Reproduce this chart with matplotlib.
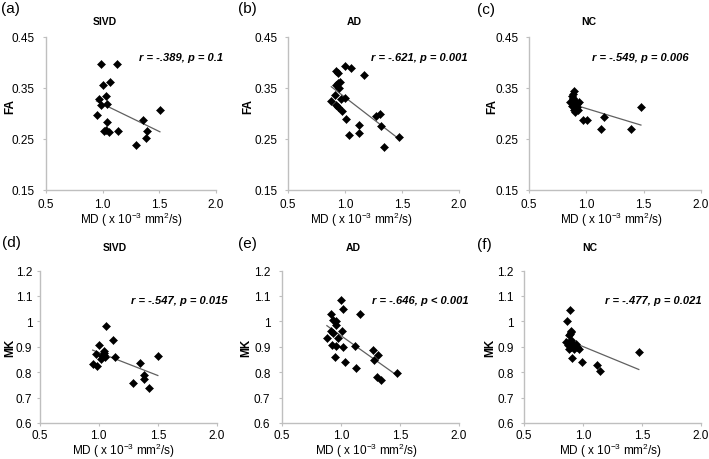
import numpy as np
import matplotlib
matplotlib.use("Agg")
import matplotlib.pyplot as plt

plt.rcParams['font.family'] = ['Liberation Sans', 'DejaVu Sans']
plt.rcParams['mathtext.fontset'] = 'custom'
plt.rcParams['mathtext.rm'] = 'Liberation Sans'

# ---------------------------------------------------------------
# Data
# ---------------------------------------------------------------
groups = ['SIVD', 'AD', 'NC']
tags_fa = ['(a)', '(b)', '(c)']
tags_mk = ['(d)', '(e)', '(f)']
stats_fa = ['r = -.389, p = 0.1', 'r = -.621, p = 0.001', 'r = -.549, p = 0.006']
stats_mk = ['r = -.547, p = 0.015', 'r = -.646, p < 0.001', 'r = -.477, p = 0.021']

md_ticks = [0.5, 1.0, 1.5, 2.0]
md_ticklabels = ['0.5', '1.0', '1.5', '2.0']
fa_ticks = [0.15, 0.25, 0.35, 0.45]
fa_ticklabels = ['0.15', '0.25', '0.35', '0.45']
mk_ticks = [0.6, 0.7, 0.8, 0.9, 1.0, 1.1, 1.2]
mk_ticklabels = ['0.6', '0.7', '0.8', '0.9', '1', '1.1', '1.2']

# FA vs MD
sivd_md_fa = [0.991, 1.124, 1.065, 1.000, 1.035, 0.970, 0.985, 1.044, 0.947, 1.044,
              1.014, 1.035, 1.056, 1.133, 1.355, 1.508, 1.390, 1.384, 1.293]
sivd_fa = [0.397, 0.397, 0.361, 0.355, 0.335, 0.328, 0.317, 0.318, 0.297, 0.284,
           0.265, 0.268, 0.264, 0.265, 0.288, 0.307, 0.266, 0.251, 0.238]

ad_md_fa = [1.003, 1.056, 0.918, 0.938, 1.165, 0.938, 0.953, 0.924, 0.947, 0.909,
            0.968, 0.997, 0.880, 0.924, 0.938, 0.974, 1.012, 1.268, 1.306, 1.121,
            1.312, 1.124, 1.033, 1.474, 1.344]
ad_fa = [0.394, 0.389, 0.383, 0.380, 0.376, 0.360, 0.362, 0.356, 0.350, 0.336,
         0.329, 0.330, 0.325, 0.317, 0.312, 0.305, 0.290, 0.295, 0.300, 0.278,
         0.275, 0.261, 0.258, 0.253, 0.234]

nc_md_fa = [0.892, 0.872, 0.885, 0.857, 0.936, 0.892, 0.907, 0.930, 0.892, 0.974,
            1.003, 1.155, 1.126, 1.389, 1.476, 0.880, 0.900, 0.915, 0.875, 0.920,
            0.898, 0.905, 0.887]
nc_fa = [0.344, 0.335, 0.339, 0.323, 0.323, 0.319, 0.309, 0.306, 0.306, 0.288,
         0.288, 0.293, 0.270, 0.270, 0.313, 0.330, 0.325, 0.318, 0.315, 0.312,
         0.313, 0.302, 0.328]

# MK vs MD
sivd_md_mk = [1.062, 1.118, 1.000, 0.978, 1.042, 1.042, 1.023, 1.056, 1.135, 0.949,
              0.986, 1.351, 1.500, 1.379, 1.385, 1.286, 1.429, 1.030, 1.048]
sivd_mk = [0.980, 0.928, 0.908, 0.872, 0.882, 0.869, 0.853, 0.860, 0.860, 0.832,
           0.826, 0.836, 0.865, 0.790, 0.773, 0.757, 0.738, 0.862, 0.875]

ad_md_mk = [1.003, 1.017, 1.165, 0.917, 0.935, 0.955, 0.960, 0.917, 0.937, 1.008,
            0.881, 0.974, 0.923, 0.960, 1.017, 1.122, 0.951, 1.037, 1.128, 1.270,
            1.315, 1.278, 1.477, 1.307, 1.344]
ad_mk = [1.084, 1.049, 1.029, 1.029, 1.005, 1.000, 0.985, 0.963, 0.956, 0.963,
         0.933, 0.933, 0.906, 0.901, 0.900, 0.904, 0.860, 0.840, 0.815, 0.887,
         0.867, 0.847, 0.798, 0.781, 0.768]

nc_md_mk = [0.887, 0.867, 0.896, 0.881, 0.853, 0.909, 0.938, 0.881, 0.924, 0.967,
            0.909, 0.995, 1.118, 1.146, 1.473, 0.900, 0.890, 0.895, 0.915, 0.930,
            0.900, 0.875, 0.945]
nc_mk = [1.046, 1.002, 0.963, 0.945, 0.919, 0.916, 0.910, 0.890, 0.892, 0.892,
         0.857, 0.839, 0.830, 0.806, 0.880, 0.960, 0.950, 0.925, 0.905, 0.898,
         0.900, 0.905, 0.900]

# ---------------------------------------------------------------
# Layout (pixel boxes: left, top, right, bottom)
# ---------------------------------------------------------------
W, H = 709, 460
fig = plt.figure(figsize=(W / 100, H / 100), dpi=100)

def fx(px):
    return px / W

def fy(py):
    return 1 - py / H

xlabel = r'MD ( x 10$^{\mathregular{-3}}$ mm$^{\mathregular{2}}$/s)'
grey = '#bfbfbf'

def panel(box, x, y, ylim, yticks, yticklabels, ylab, ypad, xpad):
    l, t, r, b = box
    ax = fig.add_axes([fx(l), fy(b), fx(r) - fx(l), fy(t) - fy(b)])
    ax.plot(x, y, 'D', color='black', ms=4, mew=0.4, clip_on=False, zorder=3)
    # linear trend line over the data range
    k, c = np.polyfit(x, y, 1)
    xs = np.array([min(x), max(x)])
    ax.plot(xs, k * xs + c, color='#606060', lw=0.9, zorder=2)
    ax.set_xlim(0.5, 2.0)
    ax.set_ylim(*ylim)
    ax.set_xticks(md_ticks)
    ax.set_xticklabels(md_ticklabels)
    ax.set_yticks(yticks)
    ax.set_yticklabels(yticklabels)
    for s in ['top', 'right']:
        ax.spines[s].set_visible(False)
    for s in ['left', 'bottom']:
        ax.spines[s].set_color(grey)
        ax.spines[s].set_linewidth(1.0)
    ax.tick_params(axis='both', direction='out', length=2, width=0.8,
                   color=grey, labelsize=8.5)
    ax.tick_params(axis='y', pad=ypad)
    ax.tick_params(axis='x', pad=xpad)
    ax.set_facecolor('none')
    return ax

boxes_fa = [(46, 38, 215.5, 191), (288, 38, 459, 191), (529, 38, 701, 191)]
boxes_mk = [(39.5, 271.5, 217, 424), (282, 271.5, 458.7, 424), (524, 271.5, 701, 424)]
ypads_fa = [6.0, 5.8, 5.8]
ypads_mk = [3.2, 6.3, 5.5]

fa_x = [sivd_md_fa, ad_md_fa, nc_md_fa]
fa_y = [sivd_fa, ad_fa, nc_fa]
mk_x = [sivd_md_mk, ad_md_mk, nc_md_mk]
mk_y = [sivd_mk, ad_mk, nc_mk]

for i in range(3):
    panel(boxes_fa[i], fa_x[i], fa_y[i], (0.15, 0.45), fa_ticks, fa_ticklabels,
          'FA', ypads_fa[i], 4.0)
    panel(boxes_mk[i], mk_x[i], mk_y[i], (0.6, 1.2), mk_ticks, mk_ticklabels,
          'MK', ypads_mk[i], 2.6)

# ---------------------------------------------------------------
# Text around the panels
# ---------------------------------------------------------------
tag_pos = [(1, 9), (238, 9), (477, 10), (2, 243), (238, 244), (477, 245)]
title_pos = [(104.7, 21.7), (354.3, 21.7), (589, 21.7),
             (115, 248.3), (353.7, 248.3), (589.3, 248.3)]
stat_pos = [(222.7, 58), (468, 58), (688.7, 58),
            (227.7, 301), (468.3, 301), (701.3, 301)]
ylab_pos = [(10, 107), (248, 107), (492, 107), (10, 348), (246, 348), (490, 348)]
xlab_pos = [(131.7, 220), (361.7, 220), (612, 220),
            (123.3, 450.7), (366.8, 450.7), (611, 450.7)]

tags = tags_fa + tags_mk
stats = stats_fa + stats_mk
ylabs = ['FA'] * 3 + ['MK'] * 3
for j in range(6):
    fig.text(fx(tag_pos[j][0]), fy(tag_pos[j][1]), tags[j], fontsize=11,
             ha='left', va='center')
    fig.text(fx(title_pos[j][0]), fy(title_pos[j][1]), groups[j % 3],
             fontsize=7.5, fontweight='bold', ha='center', va='center')
    fig.text(fx(stat_pos[j][0]), fy(stat_pos[j][1]), stats[j], fontsize=8,
             fontweight='bold', fontstyle='italic', ha='right', va='center')
    fig.text(fx(ylab_pos[j][0]), fy(ylab_pos[j][1]), ylabs[j], fontsize=8.5,
             fontweight='bold', rotation=90, ha='center', va='center')
    fig.text(fx(xlab_pos[j][0]), fy(xlab_pos[j][1]), xlabel, fontsize=8.5,
             ha='center', va='center')

plt.savefig('out.png', dpi=100)
